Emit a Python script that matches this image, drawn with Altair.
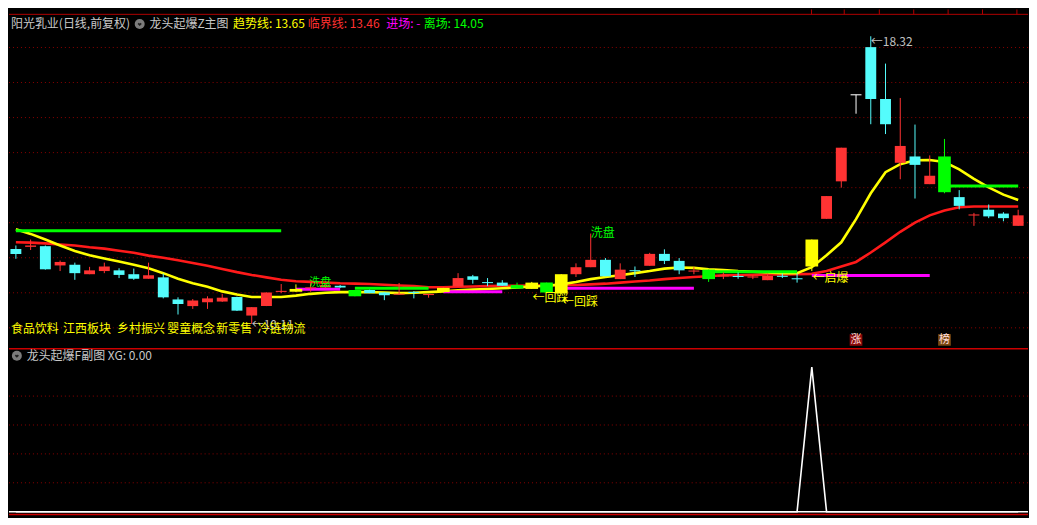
import altair as alt
import pandas as pd

# ---------------- data ----------------
open_ = [12.25, 12.31, 12.33, 11.78, 11.80, 11.53, 11.62, 11.64, 11.53, 11.40,
         11.44, 10.81, 10.62, 10.73, 10.75, 10.88, 10.35, 10.62, 11.03, 11.03,
         11.13, 11.15, 11.20, 11.08, 11.08, 11.01, 10.95, 11.04, 10.94, 11.02,
         11.18, 11.47, 11.30, 11.29, 11.22, 11.11, 11.29, 10.98, 11.53, 11.73,
         11.94, 11.39, 11.64, 11.77, 12.11, 11.91, 11.61, 11.66, 11.47, 11.48,
         11.44, 11.36, 11.48, 11.41, 11.75, 13.11, 14.18, 16.65, 18.01, 16.53,
         14.71, 14.89, 14.10, 14.89, 13.73, 13.21, 13.37, 13.26, 12.91]
high = [12.35, 12.52, 12.35, 11.92, 11.86, 11.74, 11.86, 11.70, 11.69, 11.86,
        11.55, 10.87, 10.82, 10.90, 10.97, 10.89, 10.59, 11.01, 11.25, 11.24,
        11.30, 11.26, 11.22, 11.08, 11.09, 11.02, 11.28, 11.05, 10.95, 11.14,
        11.56, 11.51, 11.42, 11.36, 11.29, 11.31, 11.29, 11.53, 11.84, 12.69,
        11.99, 11.84, 11.75, 12.14, 12.24, 11.99, 11.73, 11.66, 11.58, 11.58,
        11.50, 11.55, 11.55, 11.55, 12.52, 13.76, 15.14, 16.65, 18.32, 17.54,
        16.56, 15.80, 14.92, 15.39, 13.93, 13.28, 13.52, 13.30, 13.37]
low = [11.97, 12.22, 11.66, 11.62, 11.37, 11.53, 11.56, 11.42, 11.37, 11.40,
       10.84, 10.38, 10.54, 10.54, 10.74, 10.48, 10.11, 10.62, 10.99, 11.02,
       11.03, 11.13, 11.14, 10.90, 10.99, 10.79, 10.94, 10.84, 10.86, 11.01,
       11.17, 11.26, 11.19, 11.20, 11.12, 11.11, 11.01, 10.97, 11.45, 11.73,
       11.47, 11.39, 11.45, 11.77, 11.82, 11.53, 11.53, 11.31, 11.39, 11.40,
       11.39, 11.36, 11.42, 11.29, 11.62, 13.11, 14.00, 16.11, 15.81, 15.53,
       14.24, 13.69, 14.10, 13.84, 13.38, 12.91, 13.13, 13.04, 12.91]
close = [12.11, 12.35, 11.67, 11.88, 11.56, 11.64, 11.75, 11.51, 11.40, 11.50,
         10.87, 10.68, 10.78, 10.84, 10.86, 10.49, 10.59, 11.01, 11.04, 11.11,
         11.14, 11.22, 11.15, 10.90, 10.99, 10.93, 10.96, 11.01, 10.95, 11.14,
         11.42, 11.37, 11.29, 11.20, 11.12, 11.29, 11.01, 11.53, 11.73, 11.94,
         11.47, 11.66, 11.63, 12.11, 11.91, 11.64, 11.62, 11.39, 11.48, 11.45,
         11.45, 11.48, 11.47, 11.40, 12.52, 13.76, 15.14, 16.65, 16.53, 15.81,
         15.19, 14.65, 14.34, 13.87, 13.48, 13.22, 13.18, 13.13, 13.21]
# signal bars: Y = yellow, G = green
signal = ["", "", "", "", "", "", "", "", "", "",
          "", "", "", "", "", "", "", "", "", "Y",
          "", "", "", "G", "", "", "", "", "", "Y",
          "", "", "", "", "G", "Y", "G", "Y", "", "",
          "", "", "", "", "", "", "", "G", "", "",
          "", "", "", "", "Y", "", "", "", "", "",
          "", "", "", "G", "", "", "", "", ""]
trend = [12.81, 12.68, 12.52, 12.35, 12.19, 12.07, 11.98, 11.89, 11.80, 11.70,
         11.56, 11.40, 11.27, 11.17, 11.04, 10.95, 10.88, 10.88, 10.88, 10.92,
         10.97, 11.00, 11.02, 11.02, 11.02, 11.01, 10.99, 11.00, 11.02, 11.04,
         11.07, 11.09, 11.11, 11.13, 11.15, 11.18, 11.20, 11.24, 11.31, 11.39,
         11.45, 11.50, 11.56, 11.62, 11.69, 11.72, 11.71, 11.67, 11.65, 11.62,
         11.60, 11.58, 11.56, 11.56, 11.73, 12.07, 12.44, 13.10, 13.84, 14.44,
         14.67, 14.78, 14.79, 14.73, 14.52, 14.25, 14.01, 13.80, 13.65]
crit = [12.44, 12.43, 12.41, 12.38, 12.35, 12.30, 12.26, 12.20, 12.14, 12.06,
        12.00, 11.93, 11.85, 11.77, 11.68, 11.59, 11.51, 11.44, 11.37, 11.33,
        11.31, 11.29, 11.27, 11.26, 11.25, 11.23, 11.21, 11.19, 11.16, 11.16,
        11.17, 11.18, 11.19, 11.20, 11.20, 11.21, 11.21, 11.22, 11.22, 11.24,
        11.26, 11.29, 11.32, 11.35, 11.39, 11.42, 11.45, 11.47, 11.50, 11.50,
        11.51, 11.52, 11.52, 11.53, 11.54, 11.62, 11.75, 11.88, 12.15, 12.44,
        12.74, 13.00, 13.21, 13.35, 13.44, 13.46, 13.46, 13.46, 13.46]
xg = [0, 0, 0, 0, 0, 0, 0, 0, 0, 0,
      0, 0, 0, 0, 0, 0, 0, 0, 0, 0,
      0, 0, 0, 0, 0, 0, 0, 0, 0, 0,
      0, 0, 0, 0, 0, 0, 0, 0, 0, 0,
      0, 0, 0, 0, 0, 0, 0, 0, 0, 0,
      0, 0, 0, 0, 100, 0, 0, 0, 0, 0,
      0, 0, 0, 0, 0, 0, 0, 0, 0]
# entry (magenta) and exit (green) levels: start bar, end bar, price
entry_start = [19, 29, 37, 54]
entry_end = [22, 33, 46, 62]
entry_price = [11.10, 11.03, 11.13, 11.49]
exit_start = [0, 23, 47, 63]
exit_end = [18, 28, 53, 68]
exit_price = [12.77, 11.13, 11.60, 14.05]
grid_main = [10, 11, 12, 13, 14, 15, 16, 17, 18]
grid_sub = [20, 40, 60, 80]
sectors = ["食品饮料", "江西板块", "乡村振兴", "婴童概念", "新零售", "冷链物流"]
ann_text = ["洗盘", "洗盘", "←回踩", "←回踩", "←启爆", "←10.11", "←18.32"]
ann_bar = [19.9, 39.0, 35.05, 37.05, 54.05, 16.0, 58.0]
ann_price = [11.28, 12.71, 10.86, 10.75, 11.43, 10.09, 18.17]
badge_text = ["涨", "榜"]
badge_bar = [57, 63]

# ---------------- layout ----------------
W, H1, H2 = 1021, 339, 170
SX, SY = W / 1037.0, H1 / 350.0
FONT = "Noto Sans CJK SC"
RED, CYAN, YEL, GRN, MAG = "#ff3333", "#54fcfc", "#ffff00", "#00ff00", "#ff00ff"

xs = alt.Scale(domain=[-0.4667, 68.667], nice=False, zero=False)
ys = alt.Scale(domain=[9.429, 19.084], nice=False, zero=False)
ys2 = alt.Scale(domain=[-4.03, 113.4], nice=False, zero=False)

df = pd.DataFrame({"k": list(range(len(close))), "o": open_, "h": high,
                   "l": low, "c": close, "sig": signal,
                   "trend": trend, "crit": crit, "xg": xg})


def colour(r):
    if r.sig == "Y":
        return YEL
    if r.sig == "G":
        return GRN
    if r.c > r.o:
        return RED
    if r.c < r.o:
        return CYAN
    return "#ffffff"


df["col"] = df.apply(colour, axis=1)
df["top"] = df[["o", "c"]].max(axis=1)
df["bot"] = df[["o", "c"]].min(axis=1)
thin = (df["top"] - df["bot"]) < 0.03
df.loc[thin, "top"] = df.loc[thin, "c"] + 0.015
df.loc[thin, "bot"] = df.loc[thin, "c"] - 0.015
hw = df["sig"].map(lambda s: 0.43 if s else 0.37)
df["x1"] = df["k"] - hw
df["x2"] = df["k"] + hw

one = pd.DataFrame({"a": [0]})


def X(f):
    return alt.X(f, scale=xs, axis=None)


def Y(f):
    return alt.Y(f, scale=ys, axis=None)


def label(s, x, y, color, size=12, weight="normal"):
    return alt.Chart(one).mark_text(
        text=s, align="left", baseline="middle", color=color, fontSize=size,
        font=FONT, fontWeight=weight).encode(x=alt.value(x), y=alt.value(y))


layers = []
# grid
layers.append(alt.Chart(pd.DataFrame({"p": grid_main})).mark_rule(
    color="#8a0000", strokeDash=[1, 3], strokeWidth=1).encode(
    y=Y("p:Q"), x=alt.value(0), x2=alt.value(W)))
# critical (red) and trend (yellow) lines
layers.append(alt.Chart(df).mark_line(color="#ff1a1a", strokeWidth=2.6).encode(
    x=X("k:Q"), y=Y("crit:Q")))
layers.append(alt.Chart(df).mark_line(color=YEL, strokeWidth=2.6).encode(
    x=X("k:Q"), y=Y("trend:Q")))
# entry / exit levels
ent = pd.DataFrame({"s": entry_start, "e": entry_end, "p": entry_price})
ext = pd.DataFrame({"s": exit_start, "e": exit_end, "p": exit_price})
layers.append(alt.Chart(ent).mark_rule(color=MAG, strokeWidth=3).encode(
    x=X("s:Q"), x2="e:Q", y=Y("p:Q")))
layers.append(alt.Chart(ext).mark_rule(color=GRN, strokeWidth=3).encode(
    x=X("s:Q"), x2="e:Q", y=Y("p:Q")))
# candles
layers.append(alt.Chart(df).mark_rule(strokeWidth=1).encode(
    x=X("k:Q"), y=Y("l:Q"), y2="h:Q", color=alt.Color("col:N", scale=None)))
layers.append(alt.Chart(df).mark_rect().encode(
    x=X("x1:Q"), x2="x2:Q", y=Y("top:Q"), y2="bot:Q",
    color=alt.Color("col:N", scale=None)))
# badges
bd = pd.DataFrame({"t": badge_text, "k": badge_bar,
                   "fill": ["#8b0a0a", "#7a4a12"]})
bd["x1"] = bd["k"] - 0.43
bd["x2"] = bd["k"] + 0.43
bd["y1"] = 9.49
bd["y2"] = 9.82
bd["ym"] = 9.655
layers.append(alt.Chart(bd).mark_rect().encode(
    x=X("x1:Q"), x2="x2:Q", y=Y("y1:Q"), y2="y2:Q",
    color=alt.Color("fill:N", scale=None)))
layers.append(alt.Chart(bd).mark_text(
    color="#ffdede", fontSize=11, font=FONT, baseline="middle").encode(
    x=X("k:Q"), y=Y("ym:Q"), text="t:N"))
# annotations
ann = pd.DataFrame({"t": ann_text, "k": ann_bar, "p": ann_price,
                    "col": [GRN, GRN, YEL, YEL, YEL, "#c0c0c0", "#c0c0c0"],
                    "fs": [11, 12, 12, 12, 12, 12, 12]})
layers.append(alt.Chart(ann).mark_text(
    align="left", baseline="middle", font=FONT).encode(
    x=X("k:Q"), y=Y("p:Q"), text="t:N",
    color=alt.Color("col:N", scale=None),
    size=alt.Size("fs:Q", scale=None)))
# sector tags
for s, xr in zip(sectors, [2, 55, 110, 161, 211, 253]):
    layers.append(label(s, xr * SX, 331 * SY, YEL, 12))
# header
layers.append(label("阳光乳业(日线,前复权)", 2 * SX, 15 * SY, "#c8c8c8"))
layers.append(alt.Chart(one).mark_point(
    shape="circle", filled=True, size=100, color="#7c7c7c", opacity=1).encode(
    x=alt.value(133 * SX), y=alt.value(15 * SY)))
layers.append(alt.Chart(one).mark_point(
    shape="M-0.45,-0.2L0,0.25L0.45,-0.2", filled=False, size=45,
    color="#202020", strokeWidth=1.6, opacity=1).encode(
    x=alt.value(133 * SX), y=alt.value(15 * SY)))
layers.append(label("龙头起爆Z主图", 143 * SX, 15 * SY, "#c8c8c8"))
layers.append(label("趋势线: 13.65", 228 * SX, 15 * SY, YEL))
layers.append(label("临界线: 13.46", 304 * SX, 15 * SY, "#ff3030"))
layers.append(label("进场: -", 384 * SX, 15 * SY, MAG))
layers.append(label("离场: 14.05", 422 * SX, 15 * SY, GRN))
# top tab strip
layers.append(alt.Chart(one).mark_rule(color="#b00000", strokeWidth=1).encode(
    x=alt.value(0), x2=alt.value(W), y=alt.value(5 * SY)))
for xr in [816.7, 850, 885.7, 920.7, 955.7, 990.7, 1025.7]:
    layers.append(alt.Chart(one).mark_rule(color="#b00000", strokeWidth=1).encode(
        x=alt.value(xr * SX), y=alt.value(0), y2=alt.value(5 * SY)))

main = alt.layer(*layers).properties(width=W, height=H1)

# ---------------- sub panel ----------------
sub_layers = []
sub_layers.append(alt.Chart(pd.DataFrame({"v": grid_sub})).mark_rule(
    color="#8a0000", strokeDash=[1, 3], strokeWidth=1).encode(
    y=alt.Y("v:Q", scale=ys2, axis=None), x=alt.value(0), x2=alt.value(W)))
sub_layers.append(alt.Chart(one).mark_rule(color="#cc0000", strokeWidth=1.5).encode(
    x=alt.value(0), x2=alt.value(W), y=alt.value(0.8)))
sub_layers.append(alt.Chart(one).mark_rule(color="#cc0000", strokeWidth=1.5).encode(
    x=alt.value(0), x2=alt.value(W), y=alt.value((522 - 350) * H2 / 175.0)))
# zero baseline of the XG indicator across the whole panel
sub_layers.append(alt.Chart(pd.DataFrame({"v": [0]})).mark_rule(
    color="#ffffff", strokeWidth=1.6).encode(
    y=alt.Y("v:Q", scale=ys2, axis=None), x=alt.value(0), x2=alt.value(W)))
sub_layers.append(alt.Chart(df).mark_line(color="#ffffff", strokeWidth=1.6).encode(
    x=alt.X("k:Q", scale=xs, axis=None), y=alt.Y("xg:Q", scale=ys2, axis=None)))
sub_layers.append(alt.Chart(one).mark_point(
    shape="circle", filled=True, size=100, color="#7c7c7c", opacity=1).encode(
    x=alt.value(8 * SX), y=alt.value(8)))
sub_layers.append(alt.Chart(one).mark_point(
    shape="M-0.45,-0.2L0,0.25L0.45,-0.2", filled=False, size=45,
    color="#202020", strokeWidth=1.6, opacity=1).encode(
    x=alt.value(8 * SX), y=alt.value(8)))
sub_layers.append(alt.Chart(one).mark_text(
    text="龙头起爆F副图  XG: 0.00", align="left", baseline="middle",
    color="#c8c8c8", fontSize=12, font=FONT).encode(
    x=alt.value(18 * SX), y=alt.value(8)))
sub = alt.layer(*sub_layers).properties(width=W, height=H2)

chart = alt.vconcat(main, sub, spacing=0).properties(
    padding={"left": 0, "right": 0, "top": 0, "bottom": 0},
    background="#000000").configure_view(stroke=None)

chart.save("out.html", embed_options={"renderer": "svg", "actions": False})
